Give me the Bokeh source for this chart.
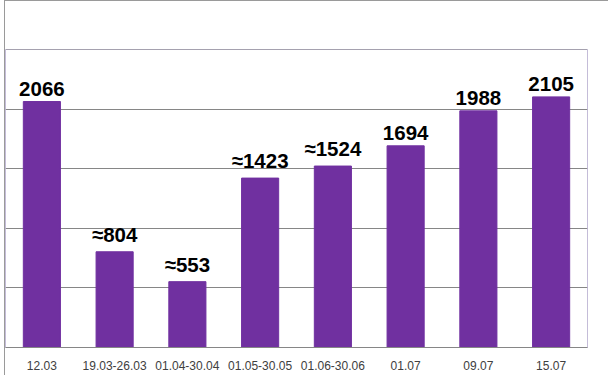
from bokeh.plotting import figure
from bokeh.models import ColumnDataSource, FixedTicker
from bokeh.core.properties import value
from bokeh.embed import file_html
from bokeh.resources import INLINE

categories = ["12.03", "19.03-26.03", "01.04-30.04", "01.05-30.05",
              "01.06-30.06", "01.07", "09.07", "15.07"]
counts = [2066, 804, 553, 1423, 1524, 1694, 1988, 2105]
count_labels = ["2066", "≈804", "≈553", "≈1423", "≈1524", "1694", "1988", "2105"]
y_ticks = [0, 500, 1000, 1500, 2000, 2500]

src = ColumnDataSource(data=dict(cat=categories, val=counts, lab=count_labels))

p = figure(x_range=categories, y_range=(0, 2503), width=604, height=375,
           output_backend="svg", toolbar_location=None,
           min_border_left=0, min_border_right=22, min_border_top=48,
           min_border_bottom=29)
p.styles = {"margin-left": "4px",
            "border-top": "1px solid #9a9a9a", "border-left": "1px solid #9a9a9a"}

p.x_range.range_padding = 0
p.vbar(x="cat", top="val", width=0.51, source=src,
       fill_color="#7030A0", line_color="#7030A0")
p.text(x="cat", y="val", text="lab", source=src,
       text_align="center", text_baseline="bottom", y_offset=-6,
       text_font=value("Liberation Sans"), text_font_style="bold",
       text_font_size="20.5px", text_color="#000000")

p.yaxis.visible = False
p.yaxis.ticker = FixedTicker(ticks=y_ticks)
p.ygrid.ticker = FixedTicker(ticks=y_ticks)
p.ygrid.grid_line_color = "#868686"
p.ygrid.grid_line_width = 1
p.xgrid.grid_line_color = None

p.xaxis.axis_line_color = "#868686"
p.xaxis.major_tick_line_color = None
p.xaxis.minor_tick_line_color = None
p.xaxis.major_tick_out = 0
p.xaxis.major_label_standoff = 13
p.xaxis.major_label_text_font = "Liberation Sans"
p.xaxis.major_label_text_font_size = "12px"
p.xaxis.major_label_text_color = "#404040"

p.outline_line_color = "#c4bcd8"
p.background_fill_color = "white"
p.border_fill_color = "white"

open("out.html", "w").write(file_html(p, INLINE))
